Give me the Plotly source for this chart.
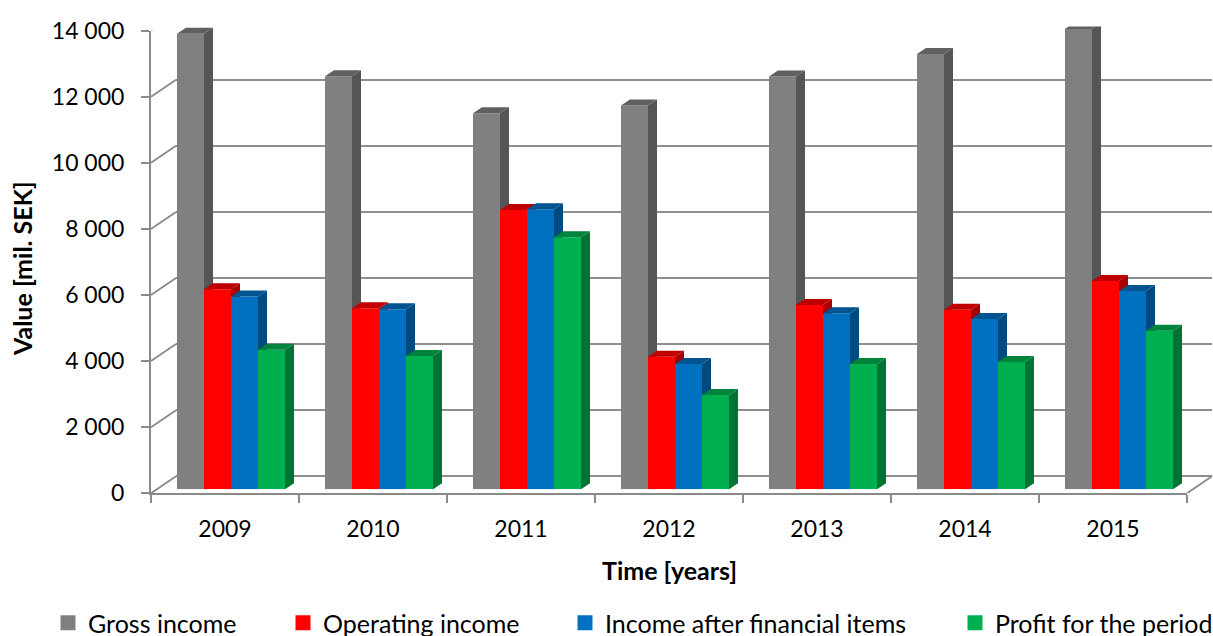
import numpy as np
import plotly.graph_objects as go

# ---------------- data ----------------
YEARS = ["2009", "2010", "2011", "2012", "2013", "2014", "2015"]
SERIES_NAMES = ["Gross income", "Operating income",
                "Income after financial items", "Profit for the period"]
GROSS_INCOME = [13780, 12500, 11380, 11610, 12490, 13170, 13930]
OPERATING_INCOME = [6050, 5480, 8450, 4010, 5580, 5430, 6300]
INCOME_AFTER_FIN = [5830, 5450, 8470, 3790, 5330, 5150, 6000]
PROFIT_PERIOD = [4220, 4030, 7630, 2850, 3790, 3850, 4800]
Y_TICK_VALUES = [0, 2000, 4000, 6000, 8000, 10000, 12000, 14000]
Y_TICK_LABELS = ["0", "2 000", "4 000", "6 000", "8 000", "10 000", "12 000", "14 000"]
Y_MAX = 14000

SERIES_VALUES = [GROSS_INCOME, OPERATING_INCOME, INCOME_AFTER_FIN, PROFIT_PERIOD]

# ---------------- styles ----------------
FRONT_COLORS = ["#808080", "#FF0000", "#0070C0", "#00B050"]
TOP_COLORS = ["#606060", "#C00000", "#00548F", "#00843C"]
SIDE_COLORS = ["#555555", "#A60000", "#004A80", "#007434"]
GRID_COLOR = "#8F8F8F"
AXIS_COLOR = "#8A8A8A"
FONT = "Lato"

W, H = 1213, 636
# front plane (pixels)
FX0, FX1 = 151, 1187
FY0, FY1 = 493.3, 30.6
# back wall offset (pixels)
BDX, BDY = 25, 17
# bar front plane offset and bar depth (pixels)
PDX, PDY = 6, 4
DDX, DDY = 9, 6


def xdom(a, b):
    return [a / W, b / W]


def ydom(bottom, top):
    return [1 - bottom / H, 1 - top / H]


n_cat = len(YEARS)
xpos = np.arange(n_cat)
XRANGE = [-0.5, n_cat - 0.5]
GROUP_W = 0.73
BAR_W = GROUP_W / len(SERIES_VALUES)

bar_px_per_cat = (FX1 - FX0) / n_cat
bar_px_per_val = (FY0 - FY1) / Y_MAX
dxu = DDX / bar_px_per_cat
dyu = DDY / bar_px_per_val

fig = go.Figure()

# invisible trace so that the back-wall subplot is created and its grid drawn
fig.add_trace(go.Scatter(x=[None], y=[None], mode="markers", xaxis="x", yaxis="y",
                         showlegend=False, hoverinfo="skip"))

for k, (name, vals) in enumerate(zip(SERIES_NAMES, SERIES_VALUES)):
    n = k + 2
    xa, ya = f"x{n}", f"y{n}"
    off = -GROUP_W / 2 + k * BAR_W
    fig.add_trace(go.Bar(
        x=xpos, y=vals, width=BAR_W, offset=off, name=name,
        marker=dict(color=FRONT_COLORS[k], line=dict(width=0)),
        xaxis=xa, yaxis=ya, showlegend=False, hovertemplate="%{y}<extra>" + name + "</extra>"))
    sx, sy, tx, ty = [], [], [], []
    for c, v in zip(xpos, vals):
        left = c + off
        right = left + BAR_W
        sx += [right, right + dxu, right + dxu, right, right, None]
        sy += [0, dyu, v + dyu, v, 0, None]
        tx += [left, left + dxu, right + dxu, right, left, None]
        ty += [v, v + dyu, v + dyu, v, v, None]
    fig.add_trace(go.Scatter(x=sx, y=sy, mode="lines", fill="toself",
                             fillcolor=SIDE_COLORS[k], line=dict(width=0, color=SIDE_COLORS[k]),
                             xaxis=xa, yaxis=ya, showlegend=False, hoverinfo="skip"))
    fig.add_trace(go.Scatter(x=tx, y=ty, mode="lines", fill="toself",
                             fillcolor=TOP_COLORS[k], line=dict(width=0, color=TOP_COLORS[k]),
                             xaxis=xa, yaxis=ya, showlegend=False, hoverinfo="skip"))

# legend entries
LEGEND_TEXT_X = [88, 323, 605, 995]
for k, name in enumerate(SERIES_NAMES):
    lg = "legend" if k == 0 else f"legend{k + 1}"
    fig.add_trace(go.Scatter(x=[None], y=[None], mode="markers", name=name,
                             marker=dict(symbol="square", size=15, color=FRONT_COLORS[k]),
                             xaxis="x2", yaxis="y2", legend=lg, showlegend=True))

legend_common = dict(orientation="h", xanchor="left", yanchor="middle",
                     y=1 - 623 / H, bgcolor="rgba(0,0,0,0)", borderwidth=0,
                     font=dict(family=FONT, size=25, color="#000000"))
layout_legends = {}
for k in range(4):
    key = "legend" if k == 0 else f"legend{k + 1}"
    layout_legends[key] = dict(legend_common, x=(LEGEND_TEXT_X[k] - 40) / W)

hidden = dict(visible=False, range=XRANGE, fixedrange=True)
hidden_y = dict(visible=False, range=[0, Y_MAX], fixedrange=True)

layout = dict(
    width=W, height=H, margin=dict(l=0, r=0, t=0, b=0, autoexpand=False),
    paper_bgcolor="white", plot_bgcolor="rgba(0,0,0,0)",
    font=dict(family=FONT, size=23, color="#000000"),
    barmode="overlay",
    # back wall with gridlines
    xaxis=dict(domain=xdom(FX0 + BDX, FX1 + BDX), range=XRANGE, anchor="y",
               showticklabels=False, ticks="", showline=False, showgrid=False,
               zeroline=False, fixedrange=True),
    yaxis=dict(domain=ydom(FY0 - BDY, FY1 - BDY), range=[0, Y_MAX], anchor="x",
               tickmode="array", tickvals=Y_TICK_VALUES, showticklabels=False, ticks="",
               showgrid=True, gridcolor=GRID_COLOR, gridwidth=2,
               zeroline=True, zerolinecolor=GRID_COLOR, zerolinewidth=2,
               showline=False, fixedrange=True),
    # bar plane
    xaxis2=dict(hidden, domain=xdom(FX0 + PDX, FX1 + PDX), anchor="y2"),
    yaxis2=dict(hidden_y, domain=ydom(FY0 - PDY, FY1 - PDY), anchor="x2"),
    # front plane axes
    xaxis6=dict(domain=xdom(FX0, FX1), range=XRANGE, anchor="y6",
                tickmode="array", tickvals=list(xpos), ticktext=YEARS, ticks="",
                ticklabelstandoff=14,
                minor=dict(tickmode="array", tickvals=list(np.arange(n_cat + 1) - 0.5),
                           ticks="outside", ticklen=8, tickcolor=AXIS_COLOR, tickwidth=1.5),
                showline=True, linecolor=AXIS_COLOR, linewidth=2,
                showgrid=False, zeroline=False, fixedrange=True,
                tickfont=dict(family=FONT, size=23, color="#000000")),
    yaxis6=dict(domain=ydom(FY0, FY1), range=[0, Y_MAX], anchor="x6",
                tickmode="array", tickvals=Y_TICK_VALUES, ticktext=Y_TICK_LABELS,
                ticks="outside", ticklen=8, tickcolor=AXIS_COLOR, tickwidth=1.5,
                ticklabelstandoff=12,
                showline=True, linecolor=AXIS_COLOR, linewidth=2,
                showgrid=False, zeroline=False, fixedrange=True,
                tickfont=dict(family=FONT, size=23, color="#000000")),
)
for n in range(3, 6):
    layout[f"xaxis{n}"] = dict(hidden, overlaying="x2", anchor=f"y{n}")
    layout[f"yaxis{n}"] = dict(hidden_y, overlaying="y2", anchor=f"x{n}")
layout.update(layout_legends)
fig.update_layout(**layout)

# diagonal connectors (side wall / floor edges)
shapes = []
for v in Y_TICK_VALUES:
    shapes.append(dict(type="line", xref="paper", xsizemode="pixel", xanchor=FX0 / W, x0=0, x1=BDX,
                       yref="y6", ysizemode="pixel", yanchor=v, y0=0, y1=BDY,
                       line=dict(color=AXIS_COLOR, width=1.8)))
shapes.append(dict(type="line", xref="paper", xsizemode="pixel", xanchor=FX1 / W, x0=0, x1=BDX,
                   yref="y6", ysizemode="pixel", yanchor=Y_TICK_VALUES[0], y0=0, y1=BDY,
                   line=dict(color=AXIS_COLOR, width=1.8)))
fig.update_layout(shapes=shapes)

# axis titles
fig.add_annotation(text="<b>Value [mil. SEK]</b>", xref="paper", yref="paper",
                   x=22 / W, y=1 - 269 / H, xanchor="center", yanchor="middle",
                   textangle=-90, showarrow=False,
                   font=dict(family=FONT, size=25, color="#000000"))
fig.add_annotation(text="<b>Time [years]</b>", xref="paper", yref="paper",
                   x=669 / W, y=1 - 570 / H, xanchor="center", yanchor="middle",
                   showarrow=False,
                   font=dict(family=FONT, size=25, color="#000000"))

fig.write_html("out.html")
